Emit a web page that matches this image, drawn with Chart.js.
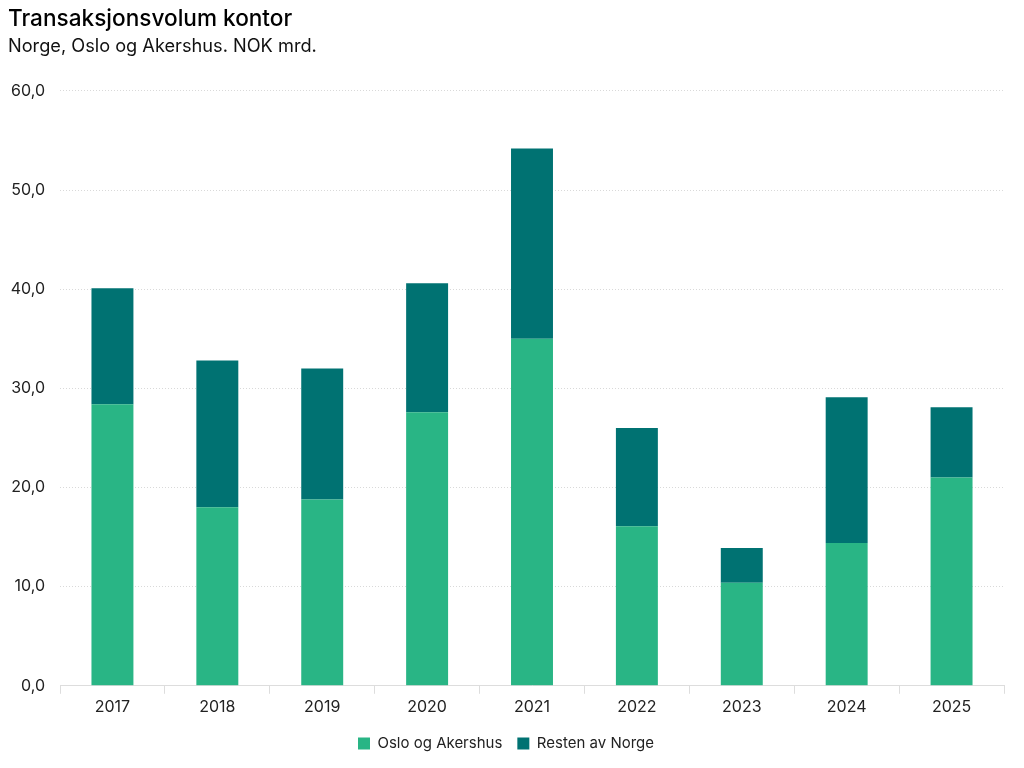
<!DOCTYPE html>
<html><head><meta charset="utf-8">
<script src="https://cdn.jsdelivr.net/npm/chart.js@4"></script>
<style>html,body{margin:0;padding:0;background:#fff;}#wrap{width:1024px;height:768px;}</style>
</head><body><div id="wrap"><canvas id="c" width="1024" height="768"></canvas></div>
<script>
const categories = ["2017","2018","2019","2020","2021","2022","2023","2024","2025"];
const osloAkershus = [28.4, 18.0, 18.8, 27.6, 35.0, 16.1, 10.4, 14.4, 21.0];
const restenAvNorge = [11.7, 14.8, 13.2, 13.0, 19.2, 9.9, 3.5, 14.7, 7.1];
const yTicks = [0,10,20,30,40,50,60];

const ctx = document.getElementById('c');
new Chart(ctx, {
  type: 'bar',
  data: {
    labels: categories,
    datasets: [
      {label: 'Oslo og Akershus', data: osloAkershus, backgroundColor: '#29b585', borderColor:'#29b585', borderWidth:0},
      {label: 'Resten av Norge', data: restenAvNorge, backgroundColor: '#007272', borderColor:'#007272', borderWidth:0}
    ]
  },
  options: {
    responsive: false,
    animation: false,
    devicePixelRatio: 1,
    layout: {padding: {left: 8, right: 20, top: 0, bottom: 7}},
    datasets: {bar: {barPercentage: 0.5, categoryPercentage: 0.8}},
    plugins: {
      title: {display: true, text: 'Transaksjonsvolum kontor', align: 'start', color: '#000',
        font: {family: 'Inter', size: 22.6, weight: '500'}, padding: {top: 6, bottom: 2}},
      subtitle: {display: true, text: 'Norge, Oslo og Akershus. NOK mrd.', align: 'start', color: '#111',
        font: {family: 'Inter', size: 18.2, weight: '400'}, padding: {bottom: 34}},
      legend: {position: 'bottom', labels: {boxWidth: 12, boxHeight: 12, color: '#222', padding: 15,
        font: {family: 'Inter', size: 15}}},
      tooltip: {enabled: false}
    },
    scales: {
      x: {stacked: true,
        grid: {display: true, drawOnChartArea: false, drawTicks: true, tickLength: 8, color: '#ddd', offset: true},
        border: {display: true, color: '#ddd'},
        ticks: {color: '#222', font: {family: 'Inter', size: 16}, padding: 4}},
      y: {stacked: true, min: 0, max: 60,
        afterBuildTicks: (s) => { s.ticks = yTicks.map(v => ({value: v})); },
        afterFit: (s) => { s.width = 52; },
        grid: {color: '#d9d9d9', drawTicks: false, lineWidth: 1},
        border: {display: false, dash: [1,2]},
        ticks: {color: '#222', padding: 15, font: {family: 'Inter', size: 16},
          callback: v => v.toFixed(1).replace('.', ',')}}
    }
  }
});
</script></body></html>
